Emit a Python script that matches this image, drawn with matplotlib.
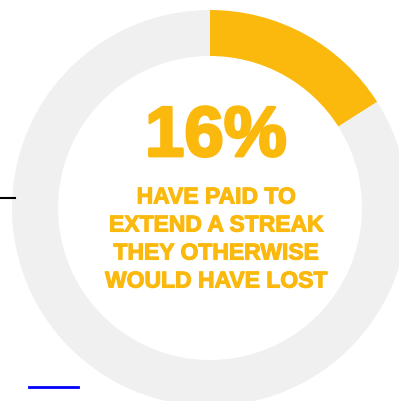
import matplotlib.pyplot as plt
import matplotlib.patheffects as pe
from matplotlib.lines import Line2D

share = [16, 84]
colors = ['#FBB90D', '#F0F0F0']
big_label = '16%'
caption = ['HAVE PAID TO', 'EXTEND A STREAK', 'THEY OTHERWISE', 'WOULD HAVE LOST']

W, H = 399, 402
fig = plt.figure(figsize=(W / 100, H / 100), dpi=100)

# ring: centre (210, 209) px from top-left, outer radius 198 px
cx, cy, r = 210, 209, 198
ax = fig.add_axes([(cx - r) / W, (H - cy - r) / H, 2 * r / W, 2 * r / H])
ax.pie(share, colors=colors, startangle=90, counterclock=False, radius=1,
       wedgeprops=dict(width=46 / 198, linewidth=0))
ax.set_xlim(-1, 1)
ax.set_ylim(-1, 1)
ax.set_aspect('equal')
ax.axis('off')

font = ['Liberation Sans', 'DejaVu Sans']
fig.text(216 / W, 1 - 139 / H, big_label, ha='center', va='center',
         fontsize=51, fontweight='bold', color=colors[0], family=font,
         path_effects=[pe.withStroke(linewidth=2, foreground=colors[0])])
ys = [198, 226, 254, 282]
for y, line in zip(ys, caption):
    fig.text(216 / W, 1 - y / H, line, ha='center', va='center',
             fontsize=16.5, fontweight='bold', color=colors[0], family=font,
             path_effects=[pe.withStroke(linewidth=0.8, foreground=colors[0])])

# stray tick marks on the left
fig.add_artist(Line2D([0, 15 / W], [1 - 199 / H] * 2, color='black', lw=1.5))
fig.add_artist(Line2D([29 / W, 78 / W], [1 - 388 / H] * 2, color='#0000FF', lw=2))

fig.savefig('out.png', dpi=100)
